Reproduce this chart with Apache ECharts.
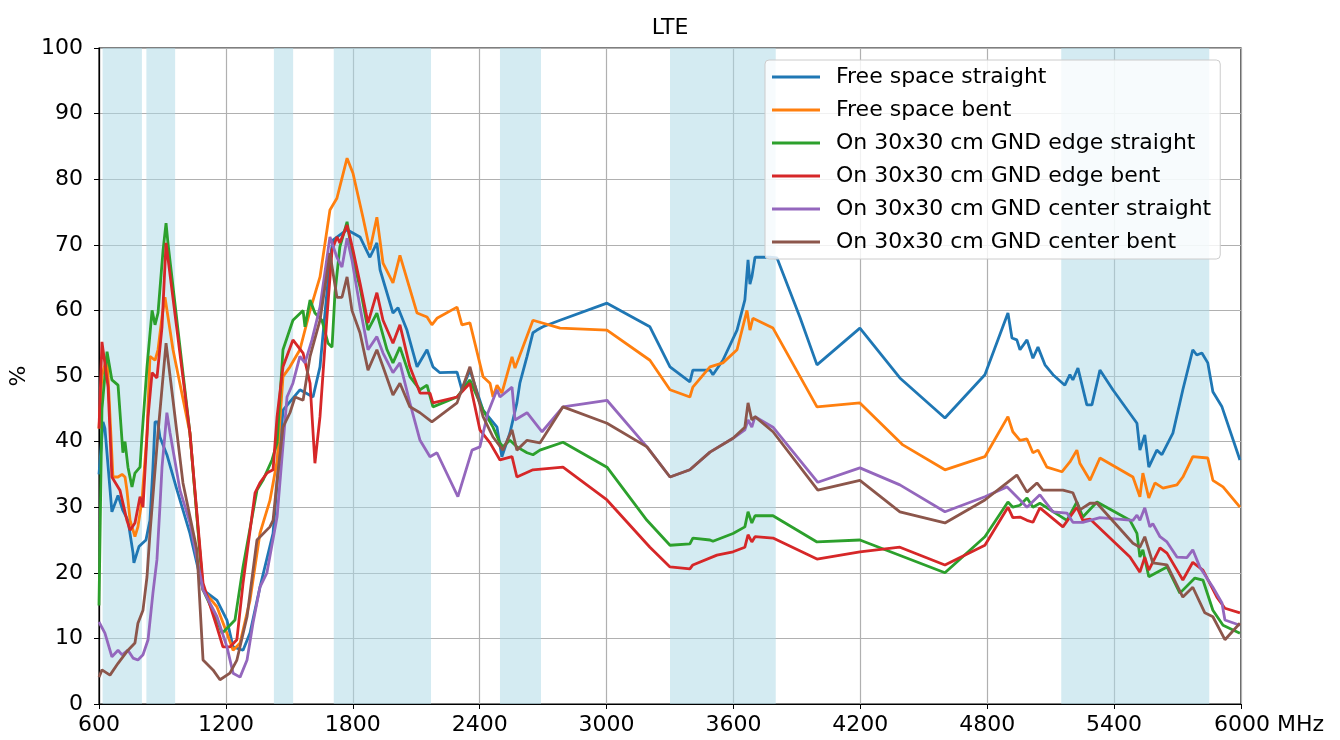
<!DOCTYPE html>
<html>
<head>
<meta charset="utf-8">
<script src="https://cdn.jsdelivr.net/npm/echarts@6/dist/echarts.min.js"></script>
<style>
  html, body { margin: 0; padding: 0; background: #fff; }
  #chart { width: 1340px; height: 740px; }
</style>
</head>
<body>
<div id="chart"></div>
<script>
const seriesNames = [
  'Free space straight',
  'Free space bent',
  'On 30x30 cm GND edge straight',
  'On 30x30 cm GND edge bent',
  'On 30x30 cm GND center straight',
  'On 30x30 cm GND center bent'
];
const xTicks = [600, 1200, 1800, 2400, 3000, 3600, 4200, 4800, 5400, 6000];
const xUnit = 'MHz';
const bands = [[617, 803], [824, 960], [1427, 1518], [1710, 2170], [2496, 2690], [3300, 3800], [5150, 5850]];

const freeStraight = [[600,35],[619,43],[628,42],[661,29.3],[690,31.8],[713,29.5],[737,28],[761,23],[765,21.5],[789,24],[822,25],[841,28],[855,36],[865,43],[878,43],[888,40.7],[921,38],[969,32.6],[1030,26],[1092,17.4],[1158,15.8],[1205,12.8],[1234,8.7],[1281,8.2],[1314,10.8],[1361,17.8],[1423,26],[1470,44.8],[1550,47.9],[1612,46.8],[1645,51.4],[1692,67.7],[1706,70.7],[1773,72.3],[1834,71.2],[1881,68.1],[1914,70.3],[1929,66.2],[1990,59.6],[2014,60.4],[2056,57],[2104,51.4],[2151,54],[2179,51.4],[2212,50.5],[2293,50.6],[2316,47.9],[2354,50.9],[2416,44.8],[2482,42.2],[2505,37.7],[2543,41.3],[2576,45.9],[2590,48.9],[2624,53],[2652,56.6],[2671,57],[2699,57.5],[2780,58.5],[3002,61.1],[3205,57.5],[3300,51.4],[3394,49.1],[3408,50.9],[3489,50.9],[3503,50.2],[3550,52.4],[3617,57],[3654,61.6],[3669,67.7],[3678,64],[3687,65.1],[3702,68.1],[3773,68.1],[3806,68],[3914,59],[3995,51.7],[4198,57.3],[4387,49.7],[4600,43.6],[4789,50.2],[4898,59.6],[4917,55.8],[4940,55.5],[4955,54],[4988,55.5],[5016,52.7],[5040,54.4],[5073,51.7],[5111,50.2],[5167,48.6],[5191,50.2],[5205,49.4],[5229,51.2],[5271,45.6],[5295,45.6],[5333,50.9],[5394,47.9],[5508,42.8],[5522,38.7],[5545,41],[5564,36.1],[5602,38.7],[5626,38],[5678,41.3],[5725,47.9],[5772,54],[5791,53.2],[5815,53.5],[5843,52],[5867,47.6],[5910,45.3],[5995,37.2]];

const freeBent = [[600,42],[614,50],[638,53],[666,34.6],[690,34.6],[709,35],[723,34.6],[732,32.6],[747,28],[770,25.5],[784,27],[803,31],[827,41.3],[841,53],[865,52.4],[879,54],[898,59],[912,62],[950,54],[1030,41.3],[1092,17.4],[1158,14.8],[1205,10.8],[1234,8.2],[1267,9.3],[1314,15.8],[1361,26],[1408,31],[1442,37],[1470,49.9],[1503,51.4],[1550,54],[1598,60],[1645,65.1],[1692,75.3],[1725,77.1],[1773,83.2],[1801,80.9],[1848,74.2],[1881,69.2],[1914,74.2],[1943,67.2],[1990,64.2],[2023,68.4],[2104,59.6],[2151,59],[2174,57.8],[2198,58.8],[2293,60.5],[2316,57.8],[2354,58.1],[2416,49.9],[2449,48.9],[2463,46.8],[2482,48.6],[2505,47.4],[2553,52.9],[2567,51.2],[2652,58.5],[2780,57.3],[3002,57],[3205,52.4],[3300,47.9],[3394,46.8],[3408,48.3],[3489,51.4],[3550,52],[3617,54],[3664,60],[3678,57],[3692,58.8],[3787,57.3],[3995,45.3],[4198,45.9],[4401,39.5],[4600,35.7],[4789,37.7],[4898,43.8],[4921,41.5],[4955,40.2],[4988,40.4],[5016,38.3],[5040,38.7],[5082,36.1],[5153,35.4],[5191,36.9],[5224,38.7],[5238,36.7],[5286,34.1],[5333,37.5],[5489,34.6],[5522,31.6],[5536,35.2],[5564,31.4],[5593,33.7],[5631,32.9],[5697,33.4],[5725,34.6],[5772,37.7],[5843,37.5],[5867,34.1],[5915,33.1],[5995,30]];

const edgeStraight = [[600,15],[614,45],[638,53.7],[661,49.4],[690,48.6],[713,38.3],[723,40],[737,36.1],[756,33.1],[770,35.2],[794,36.1],[803,40.7],[827,51.4],[851,60],[865,57.8],[879,59.6],[903,69.2],[917,73.3],[926,70.3],[1030,41.3],[1092,17.4],[1158,12.8],[1182,10.8],[1219,12],[1243,12.8],[1281,20.9],[1347,32.6],[1375,34.1],[1418,37.2],[1442,39.8],[1470,54],[1517,58.5],[1565,60],[1574,57.5],[1598,61.6],[1621,59.6],[1654,58.5],[1683,55],[1702,54.4],[1716,62.7],[1739,69.7],[1773,73.5],[1801,67.7],[1834,63.6],[1872,57],[1914,59.6],[1962,54],[1990,52],[2023,54.4],[2070,49.9],[2118,47.9],[2151,48.6],[2179,45.3],[2293,46.8],[2354,49.4],[2416,44.8],[2463,42.2],[2496,39.8],[2510,39.2],[2543,40.2],[2576,39.2],[2624,38.3],[2652,38],[2685,38.7],[2794,39.9],[3002,36.1],[3191,28],[3300,24.2],[3394,24.4],[3408,25.3],[3489,25],[3503,24.8],[3598,26],[3654,27],[3669,29.3],[3687,27.6],[3702,28.7],[3787,28.7],[3995,24.7],[4198,25],[4600,20],[4789,25.5],[4898,30.8],[4921,30],[4955,30.3],[4988,31.4],[5016,30],[5049,30.6],[5177,28],[5224,30.8],[5252,28.5],[5319,30.8],[5475,28],[5508,26],[5522,22.4],[5536,23.5],[5564,19.4],[5650,20.9],[5711,16.9],[5782,19.2],[5820,18.9],[5867,14.3],[5915,12],[5995,10.8]];

const edgeBent = [[600,42],[614,55.2],[619,55.5],[643,48.3],[661,34.6],[699,32.6],[732,28],[747,26.5],[770,27.6],[794,31.6],[808,30],[832,43.8],[851,50.5],[874,49.7],[898,57.5],[917,70.3],[1030,41.3],[1092,18.4],[1158,11.7],[1186,8.7],[1219,8.7],[1252,9.8],[1281,18.4],[1338,32.2],[1361,33.7],[1394,35.2],[1423,35.7],[1442,43.8],[1470,51.4],[1517,55.5],[1565,53.5],[1598,48.9],[1621,36.7],[1645,43.8],[1678,59],[1702,69.2],[1725,71.2],[1739,70.3],[1773,73],[1801,69.2],[1834,64.2],[1872,58.1],[1914,62.7],[1943,58.5],[1990,55],[2023,57.8],[2070,51.4],[2118,47.4],[2165,47.4],[2179,45.9],[2293,46.8],[2354,48.9],[2401,41.8],[2449,39.8],[2496,37.2],[2553,37.7],[2576,34.6],[2652,35.7],[2794,36.1],[3002,31.1],[3205,23.9],[3300,20.9],[3394,20.6],[3408,21.2],[3522,22.7],[3598,23.2],[3654,23.9],[3669,25.8],[3687,24.7],[3702,25.5],[3787,25.3],[3995,22.1],[4198,23.2],[4387,23.9],[4600,21.2],[4789,24.2],[4898,30],[4921,28.4],[4955,28.5],[4988,28],[5016,27.7],[5049,29.9],[5158,27],[5224,30],[5252,28],[5286,28.2],[5475,22.4],[5522,20.1],[5545,22.4],[5564,20.4],[5617,23.8],[5650,23],[5725,18.9],[5772,21.6],[5820,20.4],[5886,16.3],[5924,14.6],[5995,13.9]];

const centerStraight = [[600,12.5],[605,12.8],[628,10.8],[661,7.2],[690,8.2],[709,7.5],[737,8.2],[761,7],[784,6.7],[808,7.5],[832,9.8],[855,16.9],[874,22],[888,30],[898,36.1],[921,44.4],[936,41.3],[983,32.6],[1030,27.6],[1092,17.4],[1158,13.3],[1205,8.7],[1234,4.7],[1267,4.1],[1300,6.7],[1328,12.3],[1361,17.8],[1394,20],[1442,28.5],[1489,46.8],[1517,48.9],[1550,53],[1574,52],[1607,55.5],[1645,60.5],[1692,71.2],[1725,68.1],[1749,66.6],[1773,71],[1796,67.7],[1834,60.5],[1872,54],[1914,56],[1943,53.5],[1990,50.5],[2023,52],[2070,45.9],[2118,40.2],[2165,37.7],[2198,38.3],[2297,31.6],[2364,38.7],[2401,39.2],[2439,44.4],[2482,47.9],[2496,46.8],[2553,48.3],[2567,43.3],[2624,44.4],[2695,41.5],[2794,45.3],[3002,46.3],[3191,39.2],[3300,34.6],[3394,35.7],[3489,38.4],[3598,40.5],[3654,41.8],[3669,43.3],[3687,42.2],[3702,43.8],[3787,42.2],[3999,33.8],[4198,36],[4387,33.4],[4600,29.3],[4789,31.6],[4893,33.1],[4955,31.1],[4988,30],[5049,31.9],[5111,29.3],[5177,29.1],[5205,27.7],[5252,27.7],[5333,28.4],[5489,28],[5508,28.8],[5522,28],[5545,29.9],[5569,27],[5583,27.5],[5617,25.5],[5650,24.7],[5697,22.4],[5744,22.3],[5772,23.5],[5805,20.9],[5867,17.8],[5910,15.4],[5924,12.8],[5995,12]];

const centerBent = [[600,4.1],[614,5.2],[652,4.4],[690,6.2],[737,8.2],[770,9.3],[784,12.3],[808,14.3],[827,19.4],[841,26],[879,41.3],[917,55],[950,46.3],[997,33.7],[1063,23.5],[1092,6.7],[1139,5.2],[1172,3.7],[1219,4.7],[1252,6.7],[1300,13.3],[1347,25],[1408,27],[1423,28],[1442,34],[1470,42.2],[1503,44.4],[1527,46.8],[1565,46.3],[1598,53],[1645,58.5],[1692,68.7],[1725,62],[1749,62],[1773,65.1],[1796,60],[1834,56.6],[1872,50.9],[1914,54],[1943,51.4],[1990,47.1],[2023,48.9],[2070,45.3],[2118,44.4],[2174,43],[2293,45.9],[2354,51.4],[2416,43.8],[2463,40.7],[2510,38.7],[2553,41.8],[2576,38.7],[2624,40.2],[2685,39.8],[2794,45.3],[3002,42.8],[3191,39.2],[3300,34.6],[3394,35.7],[3489,38.4],[3598,40.5],[3654,42.2],[3669,45.9],[3687,43.3],[3702,43.8],[3787,41.5],[3999,32.6],[4198,34.1],[4387,29.3],[4600,27.6],[4789,31.1],[4893,33.7],[4940,34.9],[4988,32.3],[5035,33.7],[5063,32.6],[5158,32.6],[5205,32.2],[5238,29.6],[5286,30.6],[5319,30.6],[5489,24.5],[5522,23.9],[5545,25.5],[5583,21.5],[5650,21.2],[5725,16.3],[5772,17.8],[5829,13.9],[5867,13.3],[5924,9.8],[5995,12.3]];

const allData = [freeStraight, freeBent, edgeStraight, edgeBent, centerStraight, centerBent];
const colors = ['#1f77b4', '#ff7f0e', '#2ca02c', '#d62728', '#9467bd', '#8c564b'];
const FONT = 'DejaVu Sans';

const chart = echarts.init(document.getElementById('chart'), null, { renderer: 'canvas' });

const series = allData.map((d, i) => {
  const s = {
    name: seriesNames[i],
    type: 'line',
    data: d,
    showSymbol: false,
    symbol: 'none',
    lineStyle: { width: 2.8, color: colors[i] },
    itemStyle: { color: colors[i] },
    animation: false,
    z: 3 + i
  };
  if (i === 0) {
    s.markArea = {
      silent: true,
      itemStyle: { color: 'rgba(173,216,230,0.52)' },
      data: bands.map(b => [{ xAxis: b[0] }, { xAxis: b[1] }])
    };
  }
  return s;
});

const lastTick = xTicks[xTicks.length - 1];

chart.setOption({
  animation: false,
  color: colors,
  title: {
    text: 'LTE',
    left: 'center',
    top: 12,
    textStyle: { fontFamily: FONT, fontSize: 22, fontWeight: 'normal', color: '#000' }
  },
  grid: {
    left: 99, right: 99, top: 48, bottom: 36,
    containLabel: false,
    outerBoundsMode: 'none',
    show: true, borderColor: '#000', borderWidth: 1.2, backgroundColor: 'transparent'
  },
  legend: {
    orient: 'vertical',
    left: 765,
    top: 60,
    data: seriesNames,
    icon: 'rect',
    itemWidth: 48,
    itemHeight: 3,
    itemGap: 11,
    padding: [6, 9, 6, 7],
    backgroundColor: 'rgba(255,255,255,0.82)',
    borderColor: '#cccccc',
    borderWidth: 1,
    borderRadius: 4,
    textStyle: { fontFamily: FONT, fontSize: 22, color: '#000', lineHeight: 22, padding: [0, 0, 0, 11] }
  },
  xAxis: {
    type: 'value',
    min: 600,
    max: 6000,
    interval: 600,
    axisLine: { show: true, lineStyle: { color: '#000', width: 1.2 } },
    axisTick: { show: true, inside: false, length: 5, lineStyle: { color: '#000' } },
    axisLabel: {
      fontFamily: FONT, fontSize: 22, color: '#000', margin: 10,
      formatter: v => (xTicks.indexOf(v) < 0 ? '' : (v === lastTick ? '{p|}' + v + ' ' + xUnit : String(v))),
      rich: { p: { width: 56, fontFamily: FONT, fontSize: 22 } }
    },
    splitLine: { show: true, lineStyle: { color: '#b0b0b0', width: 1.2 } }
  },
  yAxis: {
    type: 'value',
    min: 0,
    max: 100,
    interval: 10,
    name: '%',
    nameLocation: 'middle',
    nameGap: 69,
    nameRotate: 90,
    nameTextStyle: { fontFamily: FONT, fontSize: 22, color: '#000' },
    axisLine: { show: true, lineStyle: { color: '#000', width: 1.2 } },
    axisTick: { show: true, inside: false, length: 5, lineStyle: { color: '#000' } },
    axisLabel: { fontFamily: FONT, fontSize: 22, color: '#000', margin: 16 },
    splitLine: { show: true, lineStyle: { color: '#b0b0b0', width: 1.2 } }
  },
  series: series
});
</script>
</body>
</html>
